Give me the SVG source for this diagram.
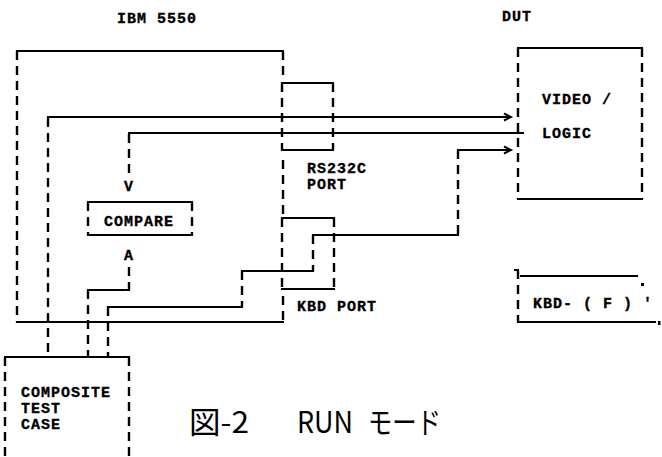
<svg xmlns="http://www.w3.org/2000/svg" width="662" height="457" viewBox="0 0 662 457">
<style>
.h{stroke:#000;stroke-width:2;fill:none;stroke-linecap:square}
.v{stroke:#000;stroke-width:2.4;fill:none;stroke-dasharray:9 6}
.t{font-family:"Liberation Mono","DejaVu Sans Mono",monospace;font-weight:bold;font-size:15px;letter-spacing:1px;fill:#000;stroke:#000;stroke-width:0.35}
.hw{font-family:"Noto Sans CJK JP","Noto Sans",sans-serif;font-size:30px;font-weight:400;fill:#000}
.ar{stroke:#000;stroke-width:2;fill:none}
</style>
<rect width="662" height="457" fill="#fff"/>

<g id="labels">
<text class="t" x="117" y="23">IBM 5550</text>
<text class="t" x="502" y="21">DUT</text>
</g>

<g id="ibm5550">
<line class="h" x1="17" y1="51" x2="283" y2="51"/>
<line class="v" x1="17" y1="51" x2="17" y2="322"/>
<line class="v" x1="283" y1="51" x2="283" y2="75"/>
<line class="v" x1="283" y1="160" x2="283" y2="214"/>
<line class="v" x1="283" y1="296" x2="283" y2="322"/>
<line class="h" x1="17" y1="322" x2="283" y2="322"/>
</g>

<g id="rs232c-port">
<line class="h" x1="282" y1="83" x2="333" y2="83"/>
<line class="h" x1="282" y1="150" x2="333" y2="150"/>
<line class="v" x1="282" y1="83" x2="282" y2="150"/>
<line class="v" x1="333" y1="83" x2="333" y2="150"/>
<text class="t" x="307" y="173">RS232C</text>
<text class="t" x="307" y="189">PORT</text>
</g>

<g id="kbd-port">
<line class="h" x1="282" y1="218" x2="334" y2="218"/>
<line class="h" x1="282" y1="289" x2="334" y2="289"/>
<line class="v" x1="282" y1="218" x2="282" y2="289"/>
<line class="v" x1="334" y1="218" x2="334" y2="289"/>
<text class="t" x="297" y="311">KBD PORT</text>
</g>

<g id="dut">
<line class="h" x1="518" y1="48" x2="642" y2="48"/>
<line class="h" x1="518" y1="199" x2="642" y2="199"/>
<line class="v" x1="518" y1="48" x2="518" y2="199"/>
<line class="v" x1="642" y1="48" x2="642" y2="199"/>
<text class="t" x="542" y="104" letter-spacing="1.8">VIDEO /</text>
<text class="t" x="542" y="138">LOGIC</text>
</g>

<g id="compare">
<line class="h" x1="88" y1="202" x2="192" y2="202"/>
<line class="h" x1="88" y1="235" x2="192" y2="235"/>
<line class="v" x1="88" y1="202" x2="88" y2="235"/>
<line class="v" x1="192" y1="202" x2="192" y2="235"/>
<text class="t" x="104" y="226">COMPARE</text>
</g>

<g id="composite-test-case">
<line class="h" x1="5" y1="357" x2="129" y2="357"/>
<line class="v" x1="5" y1="357" x2="5" y2="460"/>
<line class="v" x1="129" y1="357" x2="129" y2="460"/>
<text class="t" x="21" y="397">COMPOSITE</text>
<text class="t" x="21" y="413">TEST</text>
<text class="t" x="21" y="429">CASE</text>
</g>

<g id="kbd-f">
<line class="h" x1="515" y1="270" x2="518" y2="270"/>
<line class="v" x1="518" y1="270" x2="518" y2="322"/>
<line class="h" x1="521" y1="276" x2="637" y2="276"/>
<rect x="641" y="283" width="3" height="3" fill="#000"/>
<line class="h" x1="518" y1="322" x2="655" y2="322"/>
<rect x="658" y="321" width="2.5" height="4" fill="#000"/>
<text class="t" x="533" y="308">KBD- ( F ) '</text>
</g>

<g id="connectors">
<line class="v" x1="48" y1="118" x2="48" y2="357"/>
<line class="h" x1="48" y1="117" x2="508" y2="117"/>
<polyline class="ar" points="504,113.5 511,117 504,120.5"/>
<line class="h" x1="523" y1="133" x2="129" y2="133"/>
<line class="v" x1="129" y1="134" x2="129" y2="174"/>
<text class="t" x="129" y="191" text-anchor="middle" letter-spacing="0">V</text>
<text class="t" x="129" y="260" text-anchor="middle" letter-spacing="0">A</text>
<line class="v" x1="129" y1="267" x2="129" y2="290"/>
<line class="h" x1="88" y1="290" x2="129" y2="290"/>
<line class="v" x1="88" y1="290" x2="88" y2="357"/>
<line class="v" x1="108" y1="307" x2="108" y2="357"/>
<line class="h" x1="108" y1="307" x2="242" y2="307"/>
<line class="v" x1="242" y1="271" x2="242" y2="307"/>
<line class="h" x1="242" y1="271" x2="313" y2="271"/>
<line class="v" x1="313" y1="235" x2="313" y2="271"/>
<line class="h" x1="313" y1="235" x2="458" y2="235"/>
<line class="v" x1="458" y1="150" x2="458" y2="235"/>
<line class="h" x1="458" y1="150" x2="508" y2="150"/>
<polyline class="ar" points="504,146.5 511,150 504,153.5"/>
</g>

<g id="caption">
<text class="hw" x="189" y="433" textLength="60" lengthAdjust="spacingAndGlyphs">図-2</text>
<text class="hw" x="297" y="433" textLength="56" lengthAdjust="spacingAndGlyphs">RUN</text>
<text class="hw" x="368" y="433" textLength="73" lengthAdjust="spacingAndGlyphs">モード</text>
</g>
</svg>
